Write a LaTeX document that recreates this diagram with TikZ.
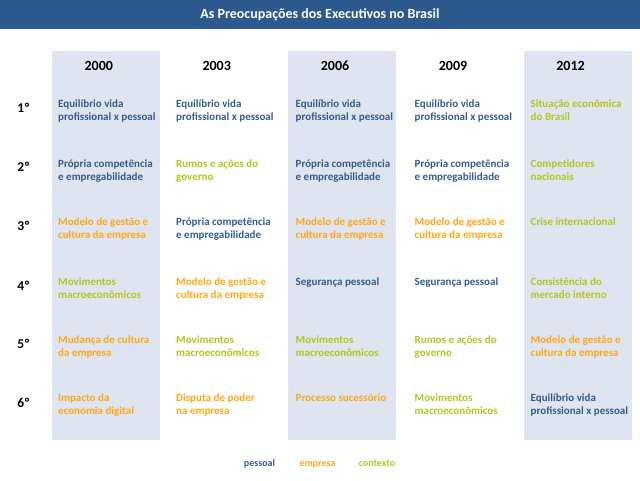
\documentclass[tikz,border=0pt]{standalone}
\usepackage{fontspec}
\setmainfont{Carlito}
\definecolor{barblue}{RGB}{44,90,142}
\definecolor{colshade}{RGB}{223,229,240}
\definecolor{cpessoal}{RGB}{52,92,145}
\definecolor{cempresa}{RGB}{255,168,22}
\definecolor{ccontexto}{RGB}{178,198,30}
\begin{document}
\begin{tikzpicture}[x=1pt,y=-1pt,
  item/.style={anchor=north west, inner sep=0pt, align=left, font=\fontsize{11}{13}\selectfont\bfseries},
  pes/.style={item, text=cpessoal},
  emp/.style={item, text=cempresa},
  ctx/.style={item, text=ccontexto},
  yearlbl/.style={font=\fontsize{14}{16}\selectfont\bfseries, text=black, inner sep=0pt},
  ranklbl/.style={font=\fontsize{13.5}{16}\selectfont\bfseries, text=black, inner sep=0pt},
  legendlbl/.style={font=\fontsize{10}{12}\selectfont\bfseries, inner sep=0pt, anchor=base},
  shadecol/.style={fill=colshade, draw=none}]
\useasboundingbox (0,0) rectangle (640,480);
\fill[barblue] (0,0) rectangle (640,29);
\node[font=\fontsize{14}{16}\selectfont\bfseries, text=white, inner sep=0pt] (title) at (320,14.5) {As Preocupações dos Executivos no Brasil};
\path[shadecol] (52,51) rectangle (160,440);
\path[shadecol] (288,51) rectangle (396,440);
\path[shadecol] (524,51) rectangle (632,440);
% years
\node[yearlbl] (y2000) at (98.8,66) {2000};
\node[yearlbl] (y2003) at (216.7,66) {2003};
\node[yearlbl] (y2006) at (335,66) {2006};
\node[yearlbl] (y2009) at (453,66) {2009};
\node[yearlbl] (y2012) at (570.5,66) {2012};
% ranks
\node[ranklbl] (r1) at (23.7,108.3) {1º};
\node[ranklbl] (r2) at (23.7,166.7) {2º};
\node[ranklbl] (r3) at (23.7,226) {3º};
\node[ranklbl] (r4) at (23.7,286) {4º};
\node[ranklbl] (r5) at (23.7,344) {5º};
\node[ranklbl] (r6) at (23.7,403.3) {6º};
% 2000
\node[pes] (a1) at (58,97.7) {Equilíbrio vida\strut\\profissional x pessoal\strut};
\node[pes] (a2) at (58,157.7) {Própria competência\strut\\e empregabilidade\strut};
\node[emp] (a3) at (58,216.1) {Modelo de gestão e\strut\\cultura da empresa\strut};
\node[ctx] (a4) at (58,276.1) {Movimentos\strut\\macroeconômicos\strut};
\node[emp] (a5) at (58,334.4) {Mudança de cultura\strut\\da empresa\strut};
\node[emp] (a6) at (58,392.4) {Impacto da\strut\\economia digital\strut};
% 2003
\node[pes] (b1) at (176,97.7) {Equilíbrio vida\strut\\profissional x pessoal\strut};
\node[ctx] (b2) at (176,157.7) {Rumos e ações do\strut\\governo\strut};
\node[pes] (b3) at (176,216.1) {Própria competência\strut\\e empregabilidade\strut};
\node[emp] (b4) at (176,276.1) {Modelo de gestão e\strut\\cultura da empresa\strut};
\node[ctx] (b5) at (176,334.4) {Movimentos\strut\\macroeconômicos\strut};
\node[emp] (b6) at (176,392.4) {Disputa de poder\strut\\na empresa\strut};
% 2006
\node[pes] (c1) at (295.5,97.7) {Equilíbrio vida\strut\\profissional x pessoal\strut};
\node[pes] (c2) at (295.5,157.7) {Própria competência\strut\\e empregabilidade\strut};
\node[emp] (c3) at (295.5,216.1) {Modelo de gestão e\strut\\cultura da empresa\strut};
\node[pes] (c4) at (295.5,276.1) {Segurança pessoal\strut};
\node[ctx] (c5) at (295.5,334.4) {Movimentos\strut\\macroeconômicos\strut};
\node[emp] (c6) at (295.5,392.4) {Processo sucessório\strut};
% 2009
\node[pes] (d1) at (414.5,97.7) {Equilíbrio vida\strut\\profissional x pessoal\strut};
\node[pes] (d2) at (414.5,157.7) {Própria competência\strut\\e empregabilidade\strut};
\node[emp] (d3) at (414.5,216.1) {Modelo de gestão e\strut\\cultura da empresa\strut};
\node[pes] (d4) at (414.5,276.1) {Segurança pessoal\strut};
\node[ctx] (d5) at (414.5,334.4) {Rumos e ações do\strut\\governo\strut};
\node[ctx] (d6) at (414.5,392.4) {Movimentos\strut\\macroeconômicos\strut};
% 2012
\node[ctx] (e1) at (530.5,97.7) {Situação econômica\strut\\do Brasil\strut};
\node[ctx] (e2) at (530.5,157.7) {Competidores\strut\\nacionais\strut};
\node[ctx] (e3) at (530.5,216.1) {Crise internacional\strut};
\node[ctx] (e4) at (530.5,276.1) {Consistência do\strut\\mercado interno\strut};
\node[emp] (e5) at (530.5,334.4) {Modelo de gestão e\strut\\cultura da empresa\strut};
\node[pes] (e6) at (530.5,392.4) {Equilíbrio vida\strut\\profissional x pessoal\strut};
% legend
\node[legendlbl, text=cpessoal] (lp) at (259.5,466) {pessoal};
\node[legendlbl, text=cempresa] (le) at (317.5,466) {empresa};
\node[legendlbl, text=ccontexto] (lc) at (377,466) {contexto};
\end{tikzpicture}
\end{document}
